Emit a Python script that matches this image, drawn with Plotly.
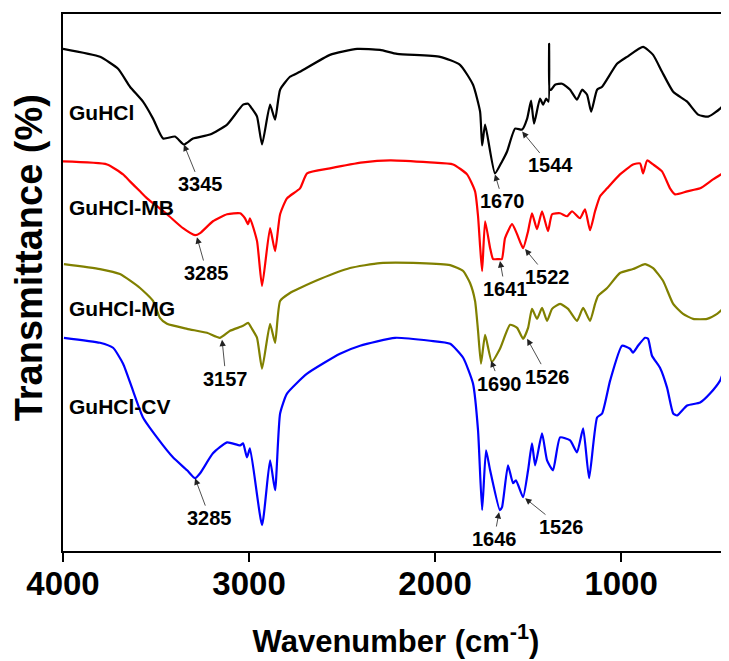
import plotly.graph_objects as go

# ---------------- data (arbitrary transmittance units) -------------
wn_guhcl = [4000, 3801, 3704, 3640, 3570, 3516, 3462, 3398, 3350, 3301, 3210, 3118, 3032, 3005,
            2984, 2957, 2930, 2887, 2860, 2833, 2780, 2726, 2565, 2419, 2296, 2204, 1973, 1866,
            1796, 1758, 1747, 1731, 1678, 1640, 1613, 1570, 1532, 1505, 1484, 1468, 1436, 1419,
            1403, 1390, 1387, 1384, 1376, 1355, 1317, 1274, 1237, 1210, 1183, 1161, 1129, 1102,
            1022, 968, 882, 828, 780, 720, 645, 586, 532, 468, 420]
t_guhcl = [504, 496, 484, 466, 451, 434, 414, 416, 408, 414, 418, 428, 448, 449,
           444, 436, 408, 448, 433, 463, 476, 481, 498, 504, 503, 499, 496, 488,
           468, 441, 407, 428, 379, 391, 401, 424, 423, 434, 452, 429, 454, 448,
           454, 451, 509, 463, 463, 468, 469, 463, 453, 463, 458, 441, 463, 466,
           489, 496, 506, 498, 481, 461, 451, 438, 436, 444, 456]

wn_mb = [4000, 3763, 3677, 3640, 3586, 3548, 3441, 3355, 3290, 3263, 3194, 3118, 3048, 3022,
         3005, 2995, 2957, 2930, 2887, 2860, 2833, 2796, 2726, 2688, 2565, 2387, 2242, 2027,
         1903, 1828, 1785, 1769, 1758, 1747, 1731, 1704, 1688, 1660, 1641, 1624, 1586, 1559,
         1527, 1500, 1479, 1452, 1425, 1393, 1371, 1328, 1290, 1264, 1221, 1194, 1167, 1140,
         1113, 1075, 1006, 936, 898, 882, 860, 828, 780, 737, 710, 645, 575, 506, 420]
t_mb = [391, 388, 378, 371, 361, 354, 338, 324, 317, 319, 331, 338, 339, 334,
        328, 334, 311, 266, 324, 301, 338, 354, 364, 379, 384, 390, 392, 390,
        388, 378, 361, 336, 306, 281, 331, 304, 293, 293, 293, 314, 328, 318,
        304, 321, 339, 323, 341, 321, 338, 339, 336, 341, 334, 343, 322, 341,
        356, 364, 378, 388, 389, 379, 392, 388, 381, 364, 358, 361, 364, 373, 383]

wn_mg = [3995, 3801, 3694, 3586, 3516, 3479, 3441, 3333, 3226, 3156, 3102, 3032, 3005, 2984,
         2957, 2930, 2887, 2860, 2833, 2780, 2726, 2618, 2457, 2296, 2081, 1919, 1849, 1812,
         1785, 1769, 1753, 1731, 1695, 1651, 1597, 1559, 1527, 1500, 1479, 1452, 1425, 1398,
         1371, 1328, 1285, 1237, 1204, 1167, 1140, 1124, 1075, 1006, 936, 871, 828, 774, 720,
         667, 613, 538, 484, 420]
t_mg = [288, 283, 278, 264, 251, 234, 228, 223, 219, 214, 221, 226, 229, 223,
        214, 183, 228, 209, 251, 259, 264, 273, 284, 289, 289, 287, 281, 269,
        251, 221, 188, 217, 190, 203, 227, 224, 213, 224, 243, 233, 244, 231,
        243, 248, 243, 231, 244, 231, 248, 256, 264, 279, 283, 288, 284, 271, 248,
        238, 233, 233, 238, 249]

wn_cv = [3995, 3801, 3731, 3677, 3624, 3570, 3495, 3409, 3333, 3290, 3263, 3194, 3118, 3048,
         3032, 3011, 2995, 2930, 2887, 2860, 2833, 2796, 2688, 2511, 2403, 2215, 2027, 1919,
         1849, 1796, 1769, 1747, 1726, 1704, 1652, 1640, 1608, 1581, 1565, 1527, 1500, 1479,
         1462, 1425, 1398, 1366, 1328, 1274, 1237, 1204, 1172, 1129, 1102, 1059, 995, 952,
         936, 909, 871, 855, 834, 791, 753, 720, 699, 645, 575, 522, 468, 441, 420]
t_cv = [214, 209, 204, 188, 161, 134, 114, 94, 81, 73, 78, 98, 109, 106,
        108, 94, 103, 26, 91, 61, 138, 158, 178, 198, 206, 214, 211, 208,
        194, 168, 121, 41, 101, 81, 41, 44, 86, 68, 71, 54, 81, 108,
        86, 118, 91, 81, 114, 111, 99, 123, 73, 134, 138, 171, 206, 203,
        199, 206, 214, 213, 196, 184, 164, 138, 136, 146, 149, 158, 171, 183, 181]

series_names = ["GuHCl", "GuHCl-MB", "GuHCl-MG", "GuHCl-CV"]
series_colors = ["#000000", "#ff0000", "#808000", "#0000ff"]
label_wn = [3978, 3978, 3978, 3978]
label_t = [440, 345, 243, 145]

# peak annotations: text, peak wavenumber, peak value, label wavenumber, label value
peak_text = ["3345", "1670", "1544", "3285", "1641", "1522", "3157", "1690", "1526", "3285", "1646", "1526"]
peak_wn = [3350, 1678, 1532, 3280, 1651, 1516, 3145, 1699, 1505, 3290, 1656, 1516]
peak_t = [408, 378, 421, 315, 291, 303, 212, 191, 213, 73, 39, 53]
lab_wn = [3263, 1635, 1382, 3226, 1624, 1393, 3124, 1651, 1393, 3210, 1683, 1323]
lab_t = [368, 351, 387, 279, 263, 275, 173, 168, 175, 33, 12, 24]

x_ticks = [4000, 3000, 2000, 1000]

# ---------------- figure ----------------
FONT = "Arial, 'Liberation Sans', sans-serif"
fig = go.Figure()
all_x = [wn_guhcl, wn_mb, wn_mg, wn_cv]
all_y = [t_guhcl, t_mb, t_mg, t_cv]
for xs, ys, name, col in zip(all_x, all_y, series_names, series_colors):
    fig.add_trace(go.Scatter(x=xs, y=ys, mode="lines", name=name,
                             line=dict(color=col, width=2.2, shape="spline", smoothing=0.5),
                             showlegend=False))

for name, xw, yt in zip(series_names, label_wn, label_t):
    fig.add_annotation(x=xw, y=yt, text=name, showarrow=False, xanchor="left", yanchor="middle",
                       font=dict(family=FONT, size=21, color="black", weight="bold"))

for txt, px_, py_, lx, ly in zip(peak_text, peak_wn, peak_t, lab_wn, lab_t):
    fig.add_annotation(x=px_, y=py_, ax=lx, ay=ly, axref="x", ayref="y", text=txt,
                       showarrow=True, arrowhead=2, arrowsize=1.6, arrowwidth=0.8,
                       arrowcolor="#222222", standoff=0,
                       font=dict(family=FONT, size=20, color="black", weight="bold"))

# y-axis title (placed slightly above the plot centre, as in the reference)
fig.add_annotation(xref="paper", yref="paper", x=-0.051, y=0.545, text="Transmittance (%)",
                   textangle=-90, showarrow=False, xanchor="center", yanchor="middle",
                   font=dict(family=FONT, size=38, color="black", weight="bold"))

# the page body has an 8px default margin, so the figure is shifted by 8px
fig.update_layout(
    width=729, height=661,
    margin=dict(l=55, r=8, t=4, b=118),
    paper_bgcolor="white", plot_bgcolor="white",
    font=dict(family=FONT, color="black"),
)
fig.update_xaxes(range=[4000, 420], tickvals=x_ticks, ticktext=[str(v) for v in x_ticks],
                 showgrid=False, zeroline=False, showline=True, linecolor="black", linewidth=1.5,
                 mirror=True, ticks="outside", ticklen=9, tickwidth=1.5, tickcolor="black",
                 ticklabelstandoff=-6,
                 tickfont=dict(family=FONT, size=33, weight="bold"),
                 title=dict(text="Wavenumber (cm<sup>-1</sup>)", standoff=29,
                            font=dict(family=FONT, size=31, weight="bold")))
fig.update_yaxes(range=[0, 539], showgrid=False, zeroline=False, showline=True, linecolor="black",
                 linewidth=1.5, mirror=False, ticks="", showticklabels=False)

fig.write_html("out.html")
